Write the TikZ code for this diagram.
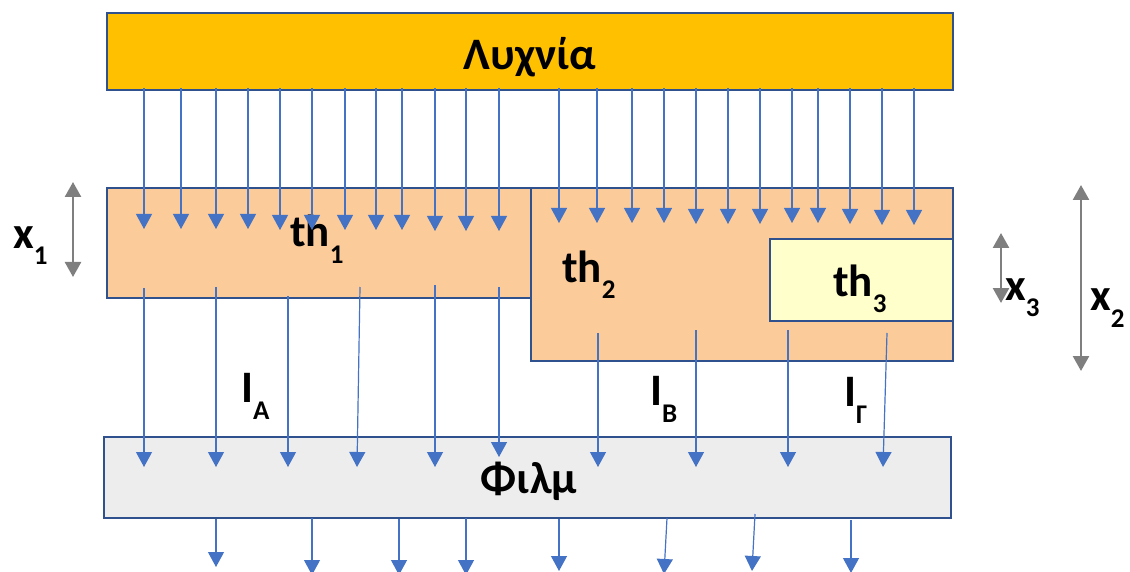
\documentclass[tikz,border=0pt]{standalone}
\usepackage{fontspec}
\setmainfont{Carlito}
\usetikzlibrary{arrows.meta}
\definecolor{lampc}{HTML}{FFC000}
\definecolor{thc}{HTML}{FBCB9A}
\definecolor{thIIIc}{HTML}{FFFFCC}
\definecolor{filmc}{HTML}{EDEDED}
\definecolor{edgec}{HTML}{2F528F}
\definecolor{rayc}{HTML}{4472C4}
\definecolor{dimc}{HTML}{7F7F7F}
\newcommand\mysub[1]{\raisebox{-17pt}{\fontsize{27}{27}\selectfont #1}}
\begin{document}
\begin{tikzpicture}[x=1pt,y=-1pt,
  box/.style={draw=edgec, line width=2.5pt, inner sep=0pt, outer sep=0pt, anchor=north west},
  lbl/.style={inner sep=0pt, font=\bfseries\fontsize{45}{50}\selectfont},
  ray/.style={draw=rayc, line width=1.2pt, -{Triangle[width=16pt,length=15pt]}},
  dimarrow/.style={draw=dimc, line width=2.5pt, {Triangle[width=16pt,length=15pt]}-{Triangle[width=16pt,length=15pt]}}]
\useasboundingbox (0,0) rectangle (1130,572);
\clip (0,0) rectangle (1130,572);
% boxes
\node[box, fill=thc, minimum width=424pt, minimum height=110pt] (thI) at (107,188) {};
\node[box, fill=thc, minimum width=422pt, minimum height=173pt] (thII) at (531,188) {};
\node[box, fill=thIIIc, minimum width=183pt, minimum height=82pt] (thIII) at (770,239) {};
\node[box, fill=lampc, minimum width=846pt, minimum height=77pt] (lamp) at (107,13) {};
\node[box, fill=filmc, minimum width=847pt, minimum height=81pt] (film) at (104,437) {};
% labels
\node[lbl, anchor=base] (lampt) at (530,70) {Λυχνία};
\node[lbl, anchor=base] (filmt) at (529,493) {Φιλμ};
\node[lbl, anchor=base west] (thIt) at (290,247) {th\mysub{1}};
\node[lbl, anchor=base west] (thIIt) at (562,282) {th\mysub{2}};
\node[lbl, anchor=base west] (thIIIt) at (833,296) {th\mysub{3}};
\node[lbl, anchor=base west] (xIt) at (13,248) {x\mysub{1}};
\node[lbl, anchor=base west] (xIIIt) at (1005,300) {x\mysub{3}};
\node[lbl, anchor=base west] (xIIt) at (1090,310) {x\mysub{2}};
\node[lbl, anchor=base west] (IAt) at (241,402) {I\mysub{A}};
\node[lbl, anchor=base west] (IBt) at (650,405) {I\mysub{B}};
\node[lbl, anchor=base west] (IGt) at (844,406) {I\mysub{Γ}};
% rays from lamp
\foreach \x/\y [count=\i] in {144/229,181/229,216/229,248/229,280/230,312/230,345/230,376/230,402/230,435/231,466/231,499/231,559/223,597/223,632/223,664/223,696/224,728/224,760/224,792/223,818/223,850/224,882/225,914/225}{
  \coordinate (ta\i) at (\x,88);
  \coordinate (tb\i) at (\x,\y);
  \draw[ray] (ta\i) -- (tb\i);
}
% rays through the layers
\foreach \xa/\ya/\xb/\yb [count=\i] in {144/288/144/467,216/287/216/467,288/296/288/467,360/287/357/467,435/285/435/467,499/287/499/457,598/333/598/467,696/330/696/467,788/330/788/467,887/333/883/467}{
  \coordinate (ma\i) at (\xa,\ya);
  \coordinate (mb\i) at (\xb,\yb);
  \draw[ray] (ma\i) -- (mb\i);
}
% rays below the film
\foreach \xa/\ya/\xb/\yb [count=\i] in {216/519/216/567,312/518/312/575,399/519/399/575,466/518/466/575,559/519/559/571,667/518/664/574,755/514/752/571,851/520/851/573}{
  \coordinate (ba\i) at (\xa,\ya);
  \coordinate (bb\i) at (\xb,\yb);
  \draw[ray] (ba\i) -- (bb\i);
}
% thickness arrows
\coordinate (dIa) at (73,182);
\coordinate (dIb) at (73,277);
\draw[dimarrow] (dIa) -- (dIb);
\coordinate (dIIIa) at (1001,233);
\coordinate (dIIIb) at (1001,303);
\draw[dimarrow] (dIIIa) -- (dIIIb);
\coordinate (dIIa) at (1081,185);
\coordinate (dIIb) at (1081,371);
\draw[dimarrow] (dIIa) -- (dIIb);
\end{tikzpicture}
\end{document}
